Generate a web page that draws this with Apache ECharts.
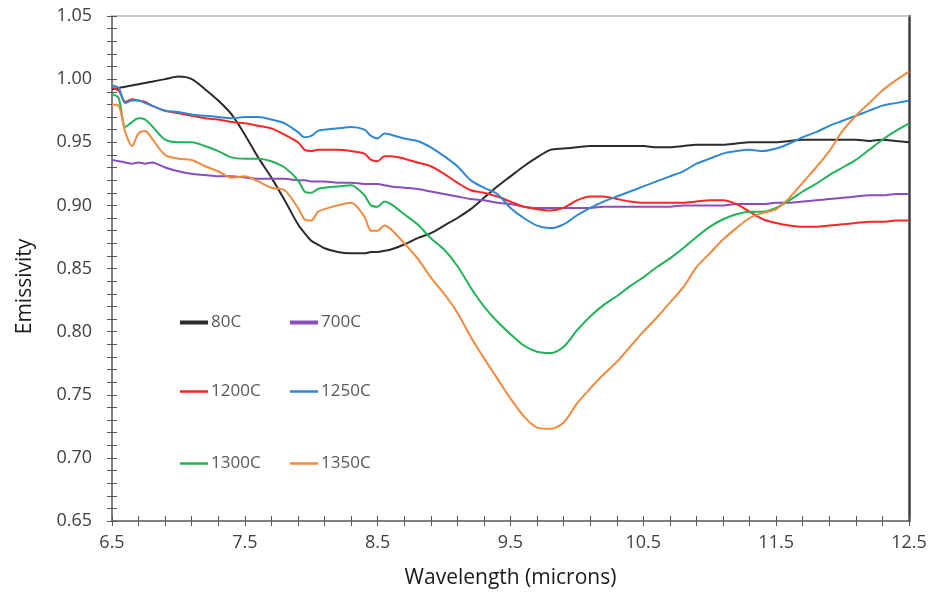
<!DOCTYPE html>
<html>
<head>
<meta charset="utf-8">
<script src="https://cdn.jsdelivr.net/npm/echarts@6/dist/echarts.min.js"></script>
<style>
html,body{margin:0;padding:0;background:#fff;}
#chart{width:932px;height:596px;}
</style>
</head>
<body>
<div id="chart"></div>
<script>
// Wavelength grid (microns)
const wavelength = [6.5,6.55,6.6,6.65,6.7,6.75,6.8,6.9,7.0,7.1,7.2,7.3,7.4,7.5,7.6,7.7,7.8,7.9,7.95,8.0,8.05,8.1,8.2,8.3,8.4,8.45,8.5,8.55,8.6,8.7,8.8,8.9,9.0,9.1,9.2,9.3,9.4,9.5,9.6,9.7,9.8,9.9,10.0,10.1,10.2,10.3,10.4,10.5,10.6,10.7,10.8,10.9,11.0,11.1,11.2,11.3,11.4,11.5,11.6,11.7,11.8,11.9,12.0,12.1,12.2,12.3,12.4,12.5];

const seriesNames = ['80C','700C','1200C','1250C','1300C','1350C'];

const em80C = [0.992,0.993,0.994,0.995,0.996,0.997,0.998,1.000,1.002,1.000,0.992,0.983,0.972,0.956,0.938,0.922,0.904,0.885,0.878,0.872,0.869,0.866,0.863,0.862,0.862,0.863,0.863,0.864,0.865,0.869,0.874,0.878,0.884,0.890,0.897,0.906,0.915,0.923,0.931,0.938,0.944,0.945,0.946,0.947,0.947,0.947,0.947,0.947,0.946,0.946,0.947,0.948,0.948,0.948,0.949,0.950,0.950,0.950,0.951,0.952,0.952,0.952,0.952,0.952,0.951,0.952,0.951,0.950];

const em700C = [0.936,0.935,0.934,0.933,0.934,0.933,0.934,0.930,0.927,0.925,0.924,0.923,0.923,0.922,0.921,0.921,0.921,0.920,0.920,0.919,0.919,0.919,0.918,0.918,0.917,0.917,0.917,0.916,0.915,0.914,0.913,0.911,0.909,0.907,0.905,0.904,0.902,0.901,0.899,0.898,0.898,0.898,0.898,0.898,0.899,0.899,0.899,0.899,0.899,0.899,0.900,0.900,0.900,0.900,0.901,0.901,0.901,0.902,0.902,0.903,0.904,0.905,0.906,0.907,0.908,0.908,0.909,0.909];

const em1200C = [0.993,0.991,0.982,0.984,0.983,0.982,0.979,0.975,0.973,0.971,0.969,0.968,0.966,0.965,0.963,0.961,0.956,0.950,0.944,0.943,0.944,0.944,0.944,0.943,0.941,0.936,0.935,0.939,0.939,0.937,0.934,0.931,0.925,0.918,0.912,0.910,0.907,0.903,0.899,0.897,0.896,0.898,0.904,0.907,0.907,0.905,0.903,0.902,0.902,0.902,0.902,0.903,0.904,0.904,0.901,0.895,0.889,0.886,0.884,0.883,0.883,0.884,0.885,0.886,0.887,0.887,0.888,0.888];

const em1250C = [0.995,0.993,0.981,0.983,0.983,0.981,0.979,0.975,0.974,0.972,0.971,0.970,0.969,0.970,0.970,0.968,0.965,0.958,0.954,0.955,0.959,0.960,0.961,0.962,0.960,0.955,0.953,0.957,0.956,0.953,0.951,0.946,0.939,0.931,0.920,0.914,0.909,0.898,0.890,0.884,0.882,0.885,0.892,0.898,0.903,0.907,0.911,0.915,0.919,0.923,0.927,0.933,0.937,0.941,0.943,0.944,0.943,0.945,0.949,0.954,0.958,0.963,0.967,0.971,0.975,0.979,0.981,0.983];

const em1300C = [0.988,0.985,0.962,0.966,0.969,0.968,0.963,0.952,0.950,0.950,0.947,0.943,0.938,0.937,0.937,0.935,0.930,0.920,0.911,0.910,0.913,0.914,0.915,0.916,0.908,0.900,0.899,0.903,0.901,0.893,0.885,0.874,0.865,0.852,0.835,0.820,0.808,0.798,0.789,0.784,0.783,0.788,0.801,0.812,0.821,0.828,0.836,0.843,0.851,0.858,0.866,0.875,0.883,0.889,0.893,0.895,0.895,0.898,0.904,0.911,0.917,0.924,0.930,0.936,0.944,0.952,0.959,0.965];

const em1350C = [0.980,0.979,0.958,0.947,0.957,0.959,0.953,0.940,0.937,0.936,0.931,0.927,0.922,0.923,0.919,0.914,0.912,0.898,0.889,0.888,0.895,0.897,0.900,0.902,0.891,0.880,0.880,0.884,0.881,0.870,0.858,0.843,0.830,0.815,0.796,0.779,0.763,0.747,0.733,0.724,0.723,0.728,0.743,0.755,0.766,0.776,0.788,0.800,0.811,0.823,0.835,0.851,0.862,0.873,0.882,0.890,0.894,0.897,0.906,0.918,0.930,0.943,0.959,0.971,0.981,0.991,0.999,1.006];

const seriesValues = [em80C, em700C, em1200C, em1250C, em1300C, em1350C];
const seriesColors = ['#2b2b2b','#8a4cbf','#f52727','#2f88d4','#22b257','#f08a3e'];

const xLabelFont = 'Open Sans';
const chart = echarts.init(document.getElementById('chart'));

const series = seriesNames.map((name, i) => ({
  name: name,
  type: 'line',
  xAxisIndex: 0,
  yAxisIndex: 0,
  symbol: 'none',
  smooth: 0.3,
  lineStyle: { color: seriesColors[i], width: 2 },
  itemStyle: { color: seriesColors[i] },
  data: wavelength.map((w, k) => [w, seriesValues[i][k]])
}));

// legend positions (3 rows x 2 columns)
const legendPos = [
  [180, 314, 4], [290, 314, 4],
  [180, 383, 2.5], [290, 383, 2.5],
  [180, 455, 2.5], [290, 455, 2.5]
];
const legends = seriesNames.map((name, i) => ({
  left: legendPos[i][0],
  top: legendPos[i][1],
  padding: 0,
  icon: 'rect',
  itemWidth: 28,
  itemHeight: legendPos[i][2],
  itemGap: 0,
  selectedMode: false,
  textStyle: { color: '#595959', fontSize: 17, fontFamily: xLabelFont, padding: [0,0,0,-2] },
  data: [name]
}));

const tickStyle = { color: '#555555', width: 1 };

chart.setOption({
  animation: false,
  backgroundColor: '#ffffff',
  grid: { left: 112, right: 23, top: 16, bottom: 75, containLabel: false },
  legend: legends,
  xAxis: [
    {
      type: 'value', min: 6.5, max: 12.5, interval: 1, position: 'bottom',
      name: 'Wavelength (microns)', nameLocation: 'middle', nameGap: 47,
      nameTextStyle: { color: '#1a1a1a', fontSize: 21, fontFamily: xLabelFont },
      axisLine: { show: true, lineStyle: { color: '#555555', width: 1.5 } },
      axisTick: { show: true, inside: false, length: 5, lineStyle: tickStyle },
      minorTick: { show: true, splitNumber: 5, length: 5, lineStyle: tickStyle },
      axisLabel: { color: '#404040', fontSize: 18, fontFamily: xLabelFont, margin: 13,
        formatter: v => v.toFixed(1) },
      splitLine: { show: false }
    },
    {
      type: 'value', min: 6.5, max: 12.5, interval: 1, position: 'bottom',
      axisLine: { show: false },
      axisTick: { show: true, inside: true, length: 5, lineStyle: tickStyle },
      minorTick: { show: true, splitNumber: 5, length: 5, lineStyle: tickStyle },
      axisLabel: { show: false },
      splitLine: { show: false }
    },
    {
      type: 'value', min: 6.5, max: 12.5, position: 'top',
      axisLine: { show: true, lineStyle: { color: '#b8b8b8', width: 1.5 } },
      axisTick: { show: false }, axisLabel: { show: false }, splitLine: { show: false }
    }
  ],
  yAxis: [
    {
      type: 'value', min: 0.65, max: 1.05, interval: 0.05, position: 'left',
      name: 'Emissivity', nameLocation: 'middle', nameGap: 76,
      nameTextStyle: { color: '#1a1a1a', fontSize: 21, fontFamily: xLabelFont, padding: [0, 36, 0, 0] },
      axisLine: { show: true, lineStyle: { color: '#555555', width: 1.5 } },
      axisTick: { show: true, inside: false, length: 5, lineStyle: tickStyle },
      minorTick: { show: true, splitNumber: 5, length: 5, lineStyle: tickStyle },
      axisLabel: { color: '#404040', fontSize: 18, fontFamily: xLabelFont, margin: 20,
        formatter: v => v.toFixed(2) },
      splitLine: { show: false }
    },
    {
      type: 'value', min: 0.65, max: 1.05, interval: 0.05, position: 'left',
      axisLine: { show: false },
      axisTick: { show: true, inside: true, length: 5, lineStyle: tickStyle },
      minorTick: { show: true, splitNumber: 5, length: 5, lineStyle: tickStyle },
      axisLabel: { show: false }, splitLine: { show: false }
    },
    {
      type: 'value', min: 0.65, max: 1.05, position: 'right',
      axisLine: { show: true, lineStyle: { color: '#404040', width: 2.5 } },
      axisTick: { show: false }, axisLabel: { show: false }, splitLine: { show: false }
    }
  ],
  series: series
});
</script>
</body>
</html>
